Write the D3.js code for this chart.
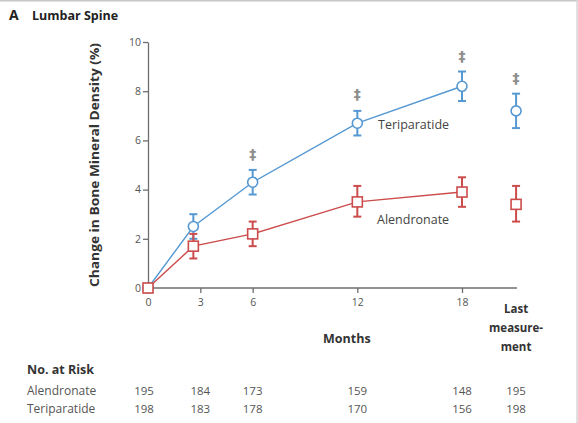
<!DOCTYPE html>
<html>
<head>
<meta charset="utf-8">
<script src="https://cdn.jsdelivr.net/npm/d3@7"></script>
<style>
  body { margin: 0; background: #fff; }
  svg { display: block; font-family: "Open Sans", Lato, sans-serif; }
</style>
</head>
<body>
<svg id="chart" width="578" height="423"></svg>
<script>
// months at which BMD was measured ("Last" is its own slot past 18)
const months = [0, 2.6, 6, 12, 18];
const xTicks = [0, 3, 6, 12, 18];
const yTicks = [0, 2, 4, 6, 8, 10];

// mean % change and error bar ends
const teriMean = [0, 2.5, 4.3, 6.7, 8.2];
const teriLow = [0, 2.0, 3.8, 6.2, 7.6];
const teriHigh = [0, 3.0, 4.8, 7.2, 8.8];
const teriLast = [7.2, 6.5, 7.9];

const alenMean = [0, 1.7, 2.2, 3.5, 3.9];
const alenLow = [0, 1.2, 1.7, 2.9, 3.3];
const alenHigh = [0, 2.2, 2.7, 4.15, 4.5];
const alenLast = [3.4, 2.7, 4.15];

// months with a significance mark (‡); "last" handled separately
const daggerMonths = [6, 12, 18];
const daggerValues = [5.45, 7.9, 9.43];
const daggerLastValue = 8.54;

const riskCols = ['0', '3', '6', '12', '18', 'Last'];
const riskAlendronate = [195, 184, 173, 159, 148, 195];
const riskTeriparatide = [198, 183, 178, 170, 156, 198];

const blue = '#5598d2';
const red = '#cc4b4b';
const axisCol = '#6e6e6e';
const textCol = '#555';

const svg = d3.select('#chart');

// thin frame lines at top / right like the scan
svg.append('line').attr('x1', 0).attr('x2', 578).attr('y1', 0.5).attr('y2', 0.5)
  .attr('stroke', '#c8c8c8').attr('stroke-width', 2);
svg.append('line').attr('x1', 577).attr('x2', 577).attr('y1', 0).attr('y2', 423)
  .attr('stroke', '#d6d6d6').attr('stroke-width', 1.5);

const x = d3.scaleLinear().domain([0, 18]).range([148, 462]);
const lastX = x(21.1);
const y = d3.scaleLinear().domain([0, 10]).range([288, 42]);

// title
svg.append('text').attr('x', 9).attr('y', 20)
  .attr('font-size', 14).attr('font-weight', 'bold').attr('fill', '#222')
  .text('A');
svg.append('text').attr('x', 32).attr('y', 20)
  .attr('font-size', 12.5).attr('font-weight', 'bold').attr('fill', '#222')
  .text('Lumbar Spine');

// y axis
const yAxis = svg.append('g')
  .attr('transform', `translate(${x(0)},0)`)
  .call(d3.axisLeft(y).tickValues(yTicks).tickSize(5).tickPadding(2).tickSizeOuter(0));
yAxis.select('.domain').attr('stroke', axisCol).attr('stroke-width', 1.3);
yAxis.selectAll('.tick line').attr('stroke', axisCol).attr('stroke-width', 1.3);
yAxis.selectAll('.tick text').attr('fill', textCol).attr('font-size', 10.5)
  .attr('font-family', '"Open Sans", sans-serif');

// x axis
const xAxis = svg.append('g')
  .attr('transform', `translate(0,${y(0)})`)
  .call(d3.axisBottom(x).tickValues(xTicks).tickSize(5).tickPadding(6).tickSizeOuter(0));
xAxis.select('.domain').attr('d', `M${x(0)},0H${x(21.15)}`)
  .attr('stroke', axisCol).attr('stroke-width', 1.3);
xAxis.selectAll('.tick line').attr('stroke', axisCol).attr('stroke-width', 1.3);
xAxis.selectAll('.tick text').attr('fill', textCol).attr('font-size', 10.5)
  .attr('font-family', '"Open Sans", sans-serif');

// "Last measurement" label
const lastLbl = svg.append('text').attr('text-anchor', 'middle')
  .attr('font-size', 11.5).attr('font-weight', 'bold').attr('fill', '#333');
lastLbl.append('tspan').attr('x', lastX).attr('y', 313).text('Last');
lastLbl.append('tspan').attr('x', lastX).attr('y', 332).text('measure-');
lastLbl.append('tspan').attr('x', lastX).attr('y', 351).text('ment');

// axis titles
svg.append('text').attr('x', x(11.4)).attr('y', 343).attr('text-anchor', 'middle')
  .attr('font-size', 12.5).attr('font-weight', 'bold').attr('fill', '#333')
  .text('Months');
svg.append('text')
  .attr('transform', `translate(99,${(y(0) + y(10)) / 2}) rotate(-90)`)
  .attr('text-anchor', 'middle')
  .attr('font-size', 12.5).attr('font-weight', 'bold').attr('fill', '#333')
  .attr('textLength', 244).attr('lengthAdjust', 'spacingAndGlyphs')
  .text('Change in Bone Mineral Density (%)');

// lines
const line = d3.line().x(d => x(d[0])).y(d => y(d[1]));
svg.append('path').datum(d3.zip(months, teriMean)).attr('d', line)
  .attr('fill', 'none').attr('stroke', blue).attr('stroke-width', 1.4);
svg.append('path').datum(d3.zip(months, alenMean)).attr('d', line)
  .attr('fill', 'none').attr('stroke', red).attr('stroke-width', 1.4);

function errorBar(cx, lo, hi, color) {
  const g = svg.append('g').attr('stroke', color).attr('stroke-width', 2);
  g.append('line').attr('x1', cx).attr('x2', cx).attr('y1', y(lo)).attr('y2', y(hi));
  g.append('line').attr('x1', cx - 4).attr('x2', cx + 4).attr('y1', y(lo)).attr('y2', y(lo));
  g.append('line').attr('x1', cx - 4).attr('x2', cx + 4).attr('y1', y(hi)).attr('y2', y(hi));
}

// error bars (skip the 0 point)
months.forEach((m, i) => {
  if (i === 0) return;
  errorBar(x(m), teriLow[i], teriHigh[i], blue);
  errorBar(x(m), alenLow[i], alenHigh[i], red);
});
errorBar(lastX, teriLast[1], teriLast[2], blue);
errorBar(lastX, alenLast[1], alenLast[2], red);

const circles = months.map((m, i) => [x(m), y(teriMean[i])]).concat([[lastX, y(teriLast[0])]]);
svg.selectAll('.teri-pt').data(circles).enter().append('circle')
  .attr('class', 'teri-pt')
  .attr('cx', d => d[0]).attr('cy', d => d[1]).attr('r', 5)
  .attr('fill', '#fff').attr('stroke', blue).attr('stroke-width', 1.6);

const squares = months.map((m, i) => [x(m), y(alenMean[i])]).concat([[lastX, y(alenLast[0])]]);
svg.selectAll('.alen-pt').data(squares).enter().append('rect')
  .attr('class', 'alen-pt')
  .attr('x', d => d[0] - 5).attr('y', d => d[1] - 5).attr('width', 10).attr('height', 10)
  .attr('fill', '#fff').attr('stroke', red).attr('stroke-width', 1.6);

// significance marks
svg.selectAll('.dagger').data(d3.zip(daggerMonths.map(m => x(m)), daggerValues)
    .concat([[lastX, daggerLastValue]]))
  .enter().append('text')
  .attr('class', 'dagger')
  .attr('x', d => d[0]).attr('y', d => y(d[1])).attr('dy', '0.35em')
  .attr('text-anchor', 'middle').attr('font-size', 14).attr('font-weight', 'bold')
  .attr('font-family', '"DejaVu Sans", sans-serif').attr('fill', '#8e8e8e')
  .text('‡');

// series labels
svg.append('text').attr('x', 378).attr('y', 129).attr('font-size', 12.5).attr('fill', '#444')
  .text('Teriparatide');
svg.append('text').attr('x', 377).attr('y', 224).attr('font-size', 12.5).attr('fill', '#444')
  .text('Alendronate');

// number at risk table
const colX = riskCols.map(c => c === 'Last' ? lastX : x(+c));
colX[0] = 144;
svg.append('text').attr('x', 27).attr('y', 374).attr('font-size', 12.5).attr('font-weight', 'bold')
  .attr('fill', '#333').text('No. at Risk');
[['Alendronate', riskAlendronate, 395], ['Teriparatide', riskTeriparatide, 413]].forEach(([name, vals, ry]) => {
  svg.append('text').attr('x', 27).attr('y', ry).attr('font-size', 12).attr('fill', '#555').text(name);
  svg.selectAll(null).data(vals).enter().append('text')
    .attr('x', (d, i) => colX[i]).attr('y', ry)
    .attr('text-anchor', 'middle').attr('font-size', 11.5).attr('fill', '#555')
    .text(d => d);
});
</script>
</body>
</html>
